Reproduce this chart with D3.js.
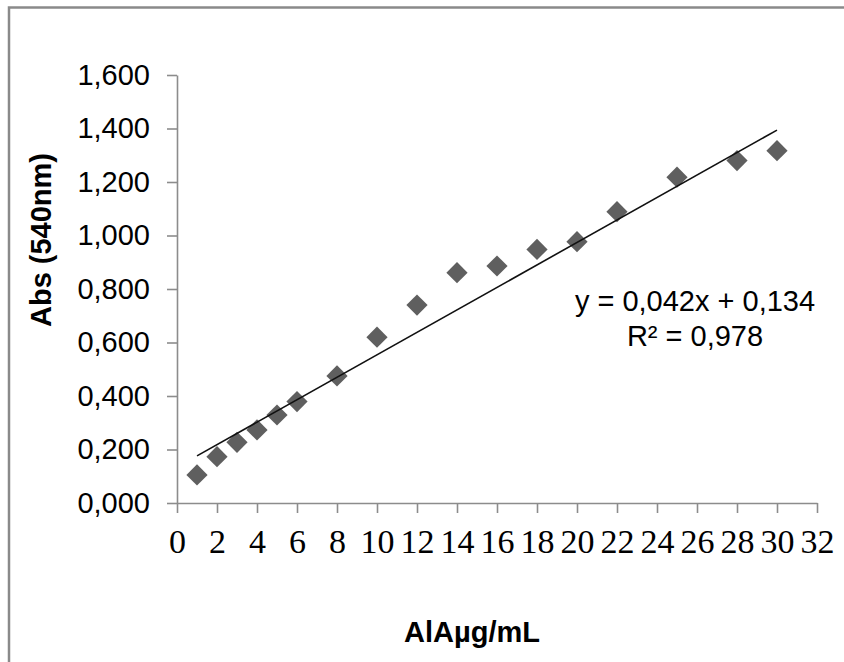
<!DOCTYPE html>
<html>
<head>
<meta charset="utf-8">
<script src="https://cdn.jsdelivr.net/npm/d3@7"></script>
<style>
  html, body { margin: 0; padding: 0; background: #fff; }
  svg { display: block; }
</style>
</head>
<body>
<svg id="chart" width="844" height="662"></svg>
<script>
// Calibration: aluminium concentration (µg/mL) vs absorbance at 540 nm
const concentrations = [1, 2, 3, 4, 5, 6, 8, 10, 12, 14, 16, 18, 20, 22, 25, 28, 30];
const absorbance = [0.105, 0.173, 0.227, 0.273, 0.329, 0.379, 0.475, 0.620, 0.740, 0.861, 0.886, 0.948, 0.977, 1.089, 1.218, 1.280, 1.317];

const xTicks = [0, 2, 4, 6, 8, 10, 12, 14, 16, 18, 20, 22, 24, 26, 28, 30, 32];
const yTicks = [0, 0.2, 0.4, 0.6, 0.8, 1.0, 1.2, 1.4, 1.6];

// Linear trendline: y = slope·x + intercept
const trendSlope = 0.042;
const trendIntercept = 0.134;
const rSquared = 0.978;

const xTitle = "AlAµg/mL";
const yTitle = "Abs (540nm)";

const svg = d3.select("#chart");
const locale = d3.formatLocale({ decimal: ",", thousands: ".", grouping: [3], currency: ["", ""] });
const fmt3 = locale.format(".3f");

const x = d3.scaleLinear().domain([0, 32]).range([177, 817]);
const y = d3.scaleLinear().domain([0, 1.6]).range([503, 75]);

// outer frame
svg.append("rect")
  .attr("x", 9).attr("y", 7.5)
  .attr("width", 860).attr("height", 680)
  .attr("fill", "#fff")
  .attr("stroke", "#8a8a8a").attr("stroke-width", 2.5);

const axisColor = "#8c8c8c";

// y axis
const yAxis = svg.append("g")
  .attr("transform", `translate(${x(0)},0)`)
  .call(d3.axisLeft(y).tickValues(yTicks).tickFormat(fmt3).tickSize(10).tickSizeOuter(0).tickPadding(17));
yAxis.select(".domain").attr("stroke", axisColor).attr("stroke-width", 1.6);
yAxis.selectAll(".tick line").attr("stroke", axisColor).attr("stroke-width", 1.6);
yAxis.selectAll(".tick text")
  .attr("fill", "#000")
  .style("font-family", "'Liberation Sans', Arial, sans-serif")
  .style("font-size", "29px");

// x axis
const xAxis = svg.append("g")
  .attr("transform", `translate(0,${y(0)})`)
  .call(d3.axisBottom(x).tickValues(xTicks).tickFormat(d3.format("d")).tickSize(10).tickSizeOuter(0).tickPadding(16));
xAxis.select(".domain").attr("stroke", axisColor).attr("stroke-width", 1.6);
xAxis.selectAll(".tick line").attr("stroke", axisColor).attr("stroke-width", 1.6);
xAxis.selectAll(".tick text")
  .attr("fill", "#000")
  .style("font-family", "'Liberation Serif', 'DejaVu Serif', serif")
  .style("font-size", "34px");

// data markers (diamonds)
const points = concentrations.map((c, i) => ({ c, a: absorbance[i] }));
const diamond = d3.symbol().type(d3.symbolSquare).size(225);
svg.append("g")
  .selectAll("path")
  .data(points)
  .join("path")
  .attr("d", diamond)
  .attr("transform", d => `translate(${x(d.c)},${y(d.a)}) rotate(45)`)
  .attr("fill", "#5f5f5f");

// trendline across the measured range
const xMin = d3.min(concentrations), xMax = d3.max(concentrations);
svg.append("line")
  .attr("x1", x(xMin)).attr("y1", y(trendSlope * xMin + trendIntercept))
  .attr("x2", x(xMax)).attr("y2", y(trendSlope * xMax + trendIntercept))
  .attr("stroke", "#111").attr("stroke-width", 1.6);

// equation and R² labels
const eq = svg.append("g")
  .style("font-family", "'Liberation Sans', Arial, sans-serif")
  .style("font-size", "29px")
  .attr("text-anchor", "middle")
  .attr("fill", "#000");
eq.append("text").attr("x", 695).attr("y", 311)
  .text(`y = ${fmt3(trendSlope)}x + ${fmt3(trendIntercept)}`);
eq.append("text").attr("x", 695).attr("y", 346)
  .text(`R² = ${fmt3(rSquared)}`);

// axis titles
svg.append("text")
  .attr("x", 472).attr("y", 642)
  .attr("text-anchor", "middle")
  .style("font-family", "'Liberation Sans', Arial, sans-serif")
  .style("font-size", "29px").style("font-weight", "bold")
  .text(xTitle);

svg.append("text")
  .attr("transform", "translate(51,240) rotate(-90)")
  .attr("text-anchor", "middle")
  .style("font-family", "'Liberation Sans', Arial, sans-serif")
  .style("font-size", "29px").style("font-weight", "bold")
  .text(yTitle);
</script>
</body>
</html>
